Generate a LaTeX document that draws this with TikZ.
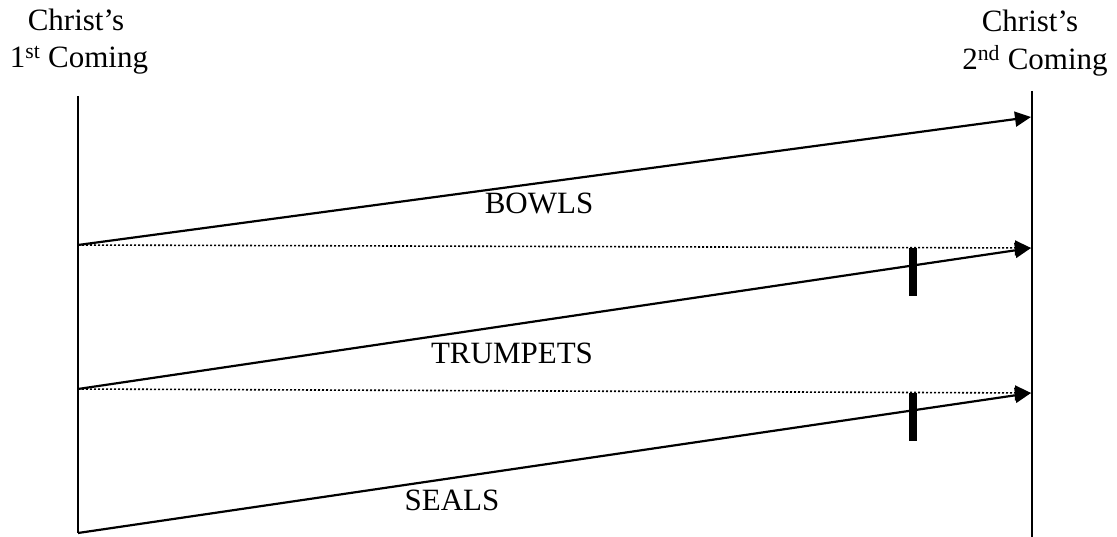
\documentclass[tikz,border=0pt]{standalone}
\usepackage{fontspec}
\setmainfont{Liberation Serif}
\usetikzlibrary{arrows.meta}
\begin{document}
\begin{tikzpicture}[x=1pt,y=-1pt,
  lbl/.style={font=\fontsize{31}{37}\selectfont, inner sep=0pt, anchor=base},
  axis/.style={line width=2pt},
  epoch/.style={line width=2.2pt, -{Triangle[length=16pt,width=15pt]}},
  dotline/.style={line width=1.6pt, dash pattern=on 2pt off 2pt, -{Triangle[length=16pt,width=15pt]}},
  tick/.style={line width=8pt}]
\useasboundingbox (0,0) rectangle (1117,537);
% coordinates
\coordinate (Ltop) at (78,96);
\coordinate (Lbot) at (78,533);
\coordinate (Rtop) at (1032,91);
\coordinate (Rbot) at (1032,537);
\coordinate (bS) at (78,245);
\coordinate (bE) at (1031,117);
\coordinate (tS) at (78,389);
\coordinate (tE) at (1031,248);
\coordinate (sS) at (78,533);
\coordinate (sE) at (1031,393);
\coordinate (d1E) at (1031,248);
\coordinate (d2E) at (1031,393);
\coordinate (k1a) at (913,248);
\coordinate (k1b) at (913,296);
\coordinate (k2a) at (913,393);
\coordinate (k2b) at (913,441);
% axes
\draw[axis] (Ltop) -- (Lbot);
\draw[axis] (Rtop) -- (Rbot);
% dotted lines
\draw[dotline] (bS) -- (d1E);
\draw[dotline] (tS) -- (d2E);
% epoch arrows
\draw[epoch] (bS) -- (bE);
\draw[epoch] (tS) -- (tE);
\draw[epoch] (sS) -- (sE);
% ticks
\draw[tick] (k1a) -- (k1b);
\draw[tick] (k2a) -- (k2b);
% labels
\node[lbl] (c1a) at (76,31) {Christ’s};
\node[lbl] (c1b) at (79,68) {1\textsuperscript{st} Coming};
\node[lbl] (c2a) at (1030,32) {Christ’s};
\node[lbl] (c2b) at (1035,70) {2\textsuperscript{nd} Coming};
\node[lbl] (bowls) at (539,214) {BOWLS};
\node[lbl] (trump) at (512,363) {TRUMPETS};
\node[lbl] (seals) at (452,510) {SEALS};
\end{tikzpicture}
\end{document}
